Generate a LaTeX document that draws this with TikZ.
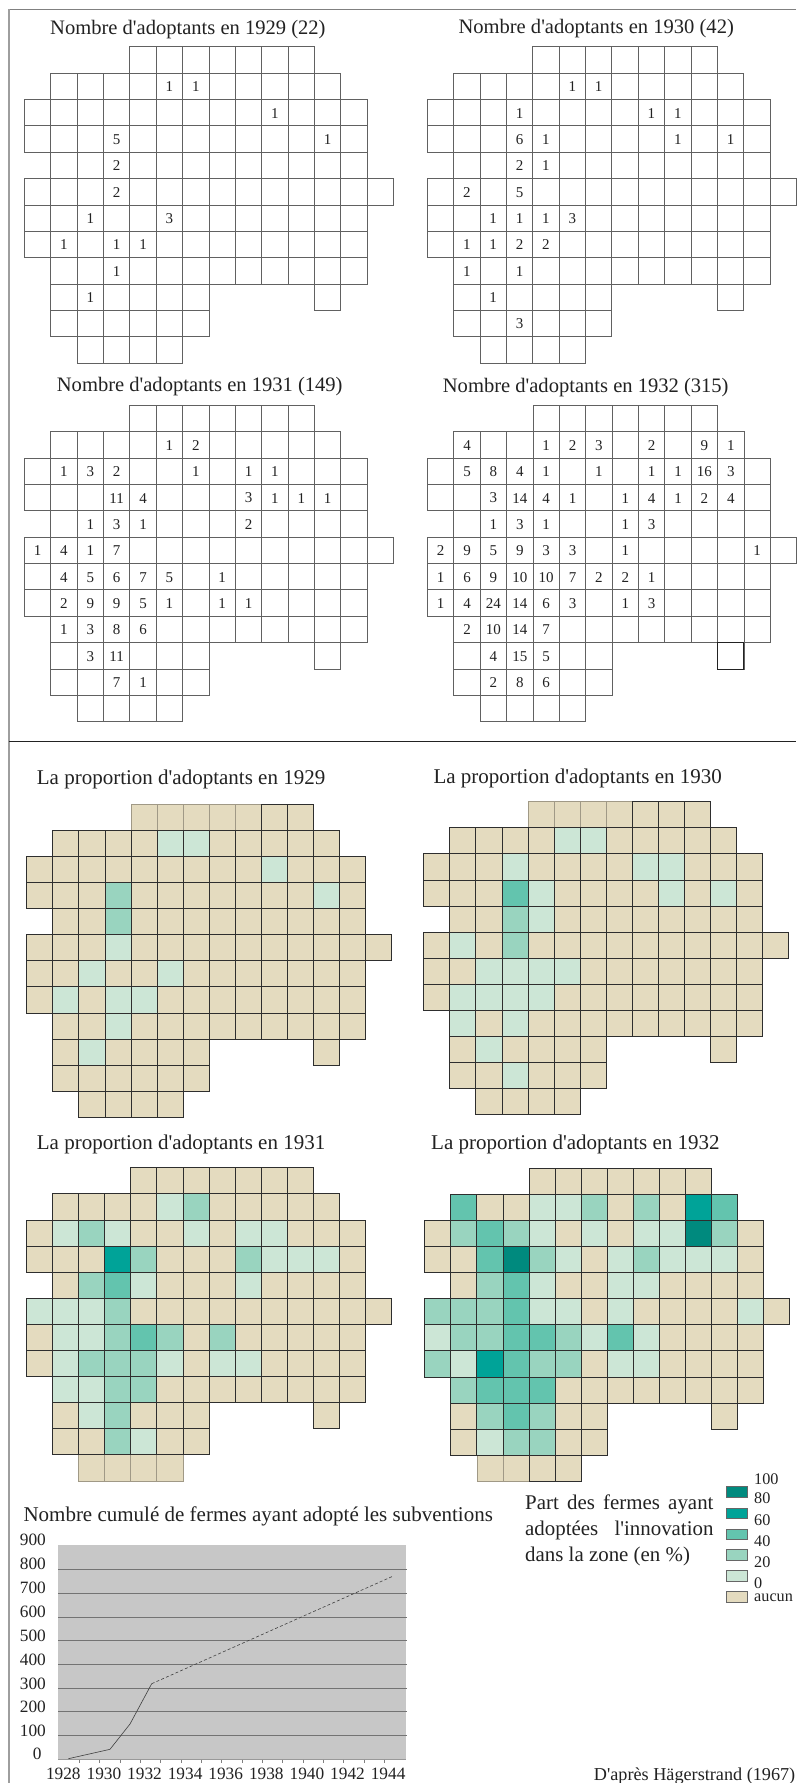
\documentclass[tikz,border=0pt]{standalone}
\usepackage{fontspec}
\setmainfont[Ligatures=TeXOff]{Liberation Serif}
\definecolor{cB}{HTML}{E4DBBF}
\definecolor{cL}{HTML}{CCE6D6}
\definecolor{cM}{HTML}{99D4BF}
\definecolor{cT}{HTML}{63C4AE}
\definecolor{cD}{HTML}{00A398}
\definecolor{cX}{HTML}{008A7E}
\definecolor{ink}{HTML}{222222}
\newcommand{\countmap}[5]{% name, x0, y0, extra unused, numbers
  \foreach \r/\a/\b in {0/4/10,1/1/11,2/0/12,3/0/12,4/1/12,5/0/13,6/0/12,7/0/12,8/1/12,9/1/6,9/11/11,10/1/6,11/2/5}{
    \foreach \c in {\a,...,\b}{
      \draw[countline] ({#2+\c*26.37},{#3+\r*26.37}) rectangle ++(26.37,26.37);
    }
  }
  \foreach \r/\c/\v in {#5}{
    \node[cellnum] (#1-\r-\c) at ({#2+(\c+.5)*26.37},{#3+(\r+.5)*26.37+.5}) {\v};
  }
}
\newcommand{\propmap}[6]{% x0, y0, pitch, normal first/last rows, faint rows, coloured cells
  \foreach \r/\a/\b in {#5}{
    \foreach \c in {\a,...,\b}{
      \draw[faintcell] ({#1+\c*#3},{#2+\r*#3}) rectangle ++(#3,#3);
    }
  }
  \foreach \r/\a/\b in {#4,1/1/11,2/0/12,3/0/12,4/1/12,5/0/13,6/0/12,7/0/12,8/1/12,9/1/6,9/11/11,10/1/6}{
    \foreach \c in {\a,...,\b}{
      \draw[propcell] ({#1+\c*#3},{#2+\r*#3}) rectangle ++(#3,#3);
    }
  }
  \foreach \r/\c/\k in {#6}{
    \draw[propcell,fill=\k] ({#1+\c*#3},{#2+\r*#3}) rectangle ++(#3,#3);
  }
}
\tikzset{
  countline/.style={draw=black!62,line width=0.8pt},
  propcell/.style={draw=black!82,line width=0.8pt,fill=cB},
  faintcell/.style={draw=black!30!cB,line width=0.7pt,fill=cB},
  cellnum/.style={font=\fontsize{15}{16}\selectfont,text=ink,inner sep=0pt},
  maptitle/.style={font=\fontsize{20.55}{24}\selectfont,text=ink,anchor=base west,inner sep=0pt},
  proptitle/.style={font=\fontsize{21}{24}\selectfont,text=ink,anchor=base west,inner sep=0pt},
  axisnum/.style={font=\fontsize{17.3}{20}\selectfont,text=ink,inner sep=0pt},
  legbox/.style={draw=black!60,line width=0.8pt},
  leglab/.style={font=\fontsize{16.2}{18}\selectfont,text=ink,anchor=west,inner sep=0pt},
  gridrule/.style={draw=black!55,line width=0.7pt},
}
\begin{document}
\begin{tikzpicture}[x=1pt,y=-1pt]
\useasboundingbox (0,0) rectangle (796,1783);
\fill[white] (0,0) rectangle (796,1783);
% frame
\draw[draw=black!50,line width=0.9pt] (796,9.3) -- (8.9,9.3);
\draw[draw=black!38,line width=1.6pt] (8.9,9.3) -- (8.9,1783);
\draw[draw=ink,line width=0.9pt] (8.9,741) -- (796,741);
% titles
\node[maptitle] (t29) at (50,34) {Nombre d'adoptants en 1929 (22)};
\node[maptitle] (t30) at (458.3,33.3) {Nombre d'adoptants en 1930 (42)};
\node[maptitle] (t31) at (56.7,391.7) {Nombre d'adoptants en 1931 (149)};
\node[maptitle] (t32) at (442.7,392.7) {Nombre d'adoptants en 1932 (315)};
\node[proptitle] (p29) at (36.7,784) {La proportion d'adoptants en 1929};
\node[proptitle] (p30) at (433.3,783.3) {La proportion d'adoptants en 1930};
\node[proptitle] (p31) at (36.7,1149) {La proportion d'adoptants en 1931};
\node[proptitle] (p32) at (431,1149) {La proportion d'adoptants en 1932};
% count maps
\countmap{a}{24.4}{46.7}{}{1/5/1,1/6/1,2/9/1,3/3/5,3/11/1,4/3/2,5/3/2,6/2/1,6/5/3,7/1/1,7/3/1,7/4/1,8/3/1,9/2/1}
\countmap{b}{427.3}{46.7}{}{1/5/1,1/6/1,2/3/1,2/8/1,2/9/1,3/3/6,3/4/1,3/9/1,3/11/1,4/3/2,4/4/1,5/1/2,5/3/5,6/2/1,6/3/1,6/4/1,6/5/3,7/1/1,7/2/1,7/3/2,7/4/2,8/1/1,8/3/1,9/2/1,10/3/3}
\countmap{c}{24.4}{405.3}{}{1/5/1,1/6/2,2/1/1,2/2/3,2/3/2,2/6/1,2/8/1,2/9/1,3/3/11,3/4/4,3/8/3,3/9/1,3/10/1,3/11/1,4/2/1,4/3/3,4/4/1,4/8/2,5/0/1,5/1/4,5/2/1,5/3/7,6/1/4,6/2/5,6/3/6,6/4/7,6/5/5,6/7/1,7/1/2,7/2/9,7/3/9,7/4/5,7/5/1,7/7/1,7/8/1,8/1/1,8/2/3,8/3/8,8/4/6,9/2/3,9/3/11,10/3/7,10/4/1}
\countmap{d}{427.5}{405.3}{}{1/1/4,1/4/1,1/5/2,1/6/3,1/8/2,1/10/9,1/11/1,2/1/5,2/2/8,2/3/4,2/4/1,2/6/1,2/8/1,2/9/1,2/10/16,2/11/3,3/2/3,3/3/14,3/4/4,3/5/1,3/7/1,3/8/4,3/9/1,3/10/2,3/11/4,4/2/1,4/3/3,4/4/1,4/7/1,4/8/3,5/0/2,5/1/9,5/2/5,5/3/9,5/4/3,5/5/3,5/7/1,5/12/1,6/0/1,6/1/6,6/2/9,6/3/10,6/4/10,6/5/7,6/6/2,6/7/2,6/8/1,7/0/1,7/1/4,7/2/24,7/3/14,7/4/6,7/5/3,7/7/1,7/8/3,8/1/2,8/2/10,8/3/14,8/4/7,9/2/4,9/3/15,9/4/5,10/2/2,10/3/8,10/4/6}
\draw[draw=ink,line width=1pt] ({427.5+11*26.37},{405.3+9*26.37}) rectangle ++(26.37,26.37);
% proportion maps
\propmap{26.7}{804.3}{26.08}{0/9/10,11/2/5}{0/4/8}{1/5/cL,1/6/cL,2/9/cL,3/3/cM,3/11/cL,4/3/cM,5/3/cL,6/2/cL,6/5/cL,7/1/cL,7/3/cL,7/4/cL,8/3/cL,9/2/cL}
\propmap{423.7}{801.7}{26.08}{0/8/10,11/2/5}{0/4/7}{1/5/cL,1/6/cL,2/3/cL,2/8/cL,2/9/cL,3/3/cT,3/4/cL,3/9/cL,3/11/cL,4/3/cM,4/4/cL,5/1/cL,5/3/cM,6/2/cL,6/3/cL,6/4/cL,6/5/cL,7/1/cL,7/2/cL,7/3/cL,7/4/cL,8/1/cL,8/3/cL,9/2/cL,10/3/cL}
\propmap{26.3}{1167.7}{26.1}{0/4/10}{11/2/5}{1/5/cL,1/6/cM,2/1/cL,2/2/cM,2/3/cL,2/6/cL,2/8/cL,2/9/cL,3/3/cD,3/4/cM,3/8/cM,3/9/cL,3/10/cL,3/11/cL,4/2/cM,4/3/cT,4/4/cL,4/8/cL,5/0/cL,5/1/cL,5/2/cL,5/3/cM,6/1/cL,6/2/cL,6/3/cM,6/4/cT,6/5/cM,6/7/cM,7/1/cL,7/2/cM,7/3/cM,7/4/cM,7/5/cL,7/7/cL,7/8/cL,8/1/cL,8/2/cL,8/3/cM,8/4/cM,9/2/cL,9/3/cM,10/3/cM,10/4/cL}
\propmap{424.7}{1168.3}{26.08}{0/4/10,11/4/5}{11/2/3}{1/1/cT,1/4/cL,1/5/cL,1/6/cM,1/8/cM,1/10/cD,1/11/cT,2/1/cM,2/2/cT,2/3/cM,2/4/cL,2/6/cL,2/8/cL,2/9/cL,2/10/cX,2/11/cM,3/2/cT,3/3/cX,3/4/cM,3/5/cL,3/7/cL,3/8/cM,3/9/cL,3/10/cL,3/11/cL,4/2/cM,4/3/cT,4/4/cL,4/7/cL,4/8/cL,5/0/cM,5/1/cM,5/2/cM,5/3/cT,5/4/cL,5/5/cL,5/7/cL,5/12/cL,6/0/cL,6/1/cM,6/2/cM,6/3/cT,6/4/cT,6/5/cM,6/6/cL,6/7/cT,6/8/cL,7/0/cM,7/1/cL,7/2/cD,7/3/cT,7/4/cM,7/5/cM,7/7/cL,7/8/cL,8/1/cM,8/2/cT,8/3/cT,8/4/cT,9/2/cM,9/3/cT,9/4/cM,10/2/cL,10/3/cM,10/4/cM}
% legend text
\node[anchor=north west,inner sep=0pt,align=left,text=ink,font=\fontsize{20.9}{26}\selectfont] (parttxt) at (525,1494.5) {\makebox[188.3pt][s]{Part des fermes ayant}\\\makebox[188.3pt][s]{adoptées l'innovation}\\dans la zone (en \%)};
% legend
\foreach \yy/\k in {1486.7/cX,1508/cD,1529/cT,1549.7/cM,1570.7/cL,1591.7/cB}{
  \draw[legbox,fill=\k] (726.3,\yy) rectangle (747.7,\yy+10.5);
}
\foreach \nm/\yy/\lab in {l100/1478.7/100,l80/1498.3/80,l60/1520/60,l40/1540.7/40,l20/1561.7/20,l0/1582.7/0,lau/1597.3/aucun}{
  \node[leglab] (\nm) at (754,\yy) {\lab};
}
% chart
\node[maptitle,font=\fontsize{21}{24}\selectfont] (ctitle) at (23.3,1521) {Nombre cumulé de fermes ayant adopté les subventions};
\fill[fill=black!22!white] (58.3,1545) rectangle (405.7,1759.3);
\foreach \yy in {1569.3,1593.3,1617.3,1640.3,1664.3,1688.3,1711.3,1735.3}{
  \draw[gridrule] (58.3,\yy) -- (406.7,\yy);
}
\draw[draw=black!40,line width=0.6pt] (58.3,1759.5) -- (405.7,1759.5);
\foreach \k in {0,...,15}{
  \draw[draw=black!50,line width=0.5pt] ({79.3+\k*20.33},1759.5) -- ++(0,3.5);
}
\coordinate (c0) at (68.3,1758.7);
\coordinate (c1) at (110,1749.3);
\coordinate (c2) at (130,1724);
\coordinate (c3) at (151.7,1683.7);
\coordinate (c4) at (393.3,1576);
\draw[draw=black!75,line width=0.6pt] (c0) -- (c1) -- (c2) -- (c3);
\draw[draw=black!75,line width=0.6pt,dash pattern=on 3pt off 2.2pt] (c3) -- (c4);
\foreach \nm/\yy in {900/1540,800/1564,700/1588,600/1612,500/1636,400/1660,300/1684,200/1707,100/1731}{
  \node[axisnum,anchor=east] (y\nm) at (46,\yy) {\nm};
}
\node[axisnum] (y0) at (37.3,1754) {0};
\foreach \i/\lab in {0/1928,1/1930,2/1932,3/1934,4/1936,5/1938,6/1940,7/1942,8/1944}{
  \node[axisnum] (x\lab) at ({63.3+\i*40.6},1774) {\lab};
}
\node[anchor=base east,inner sep=0pt,text=ink,font=\fontsize{18.2}{20}\selectfont] (src) at (795.5,1780) {D'après Hägerstrand (1967)};
\end{tikzpicture}
\end{document}
